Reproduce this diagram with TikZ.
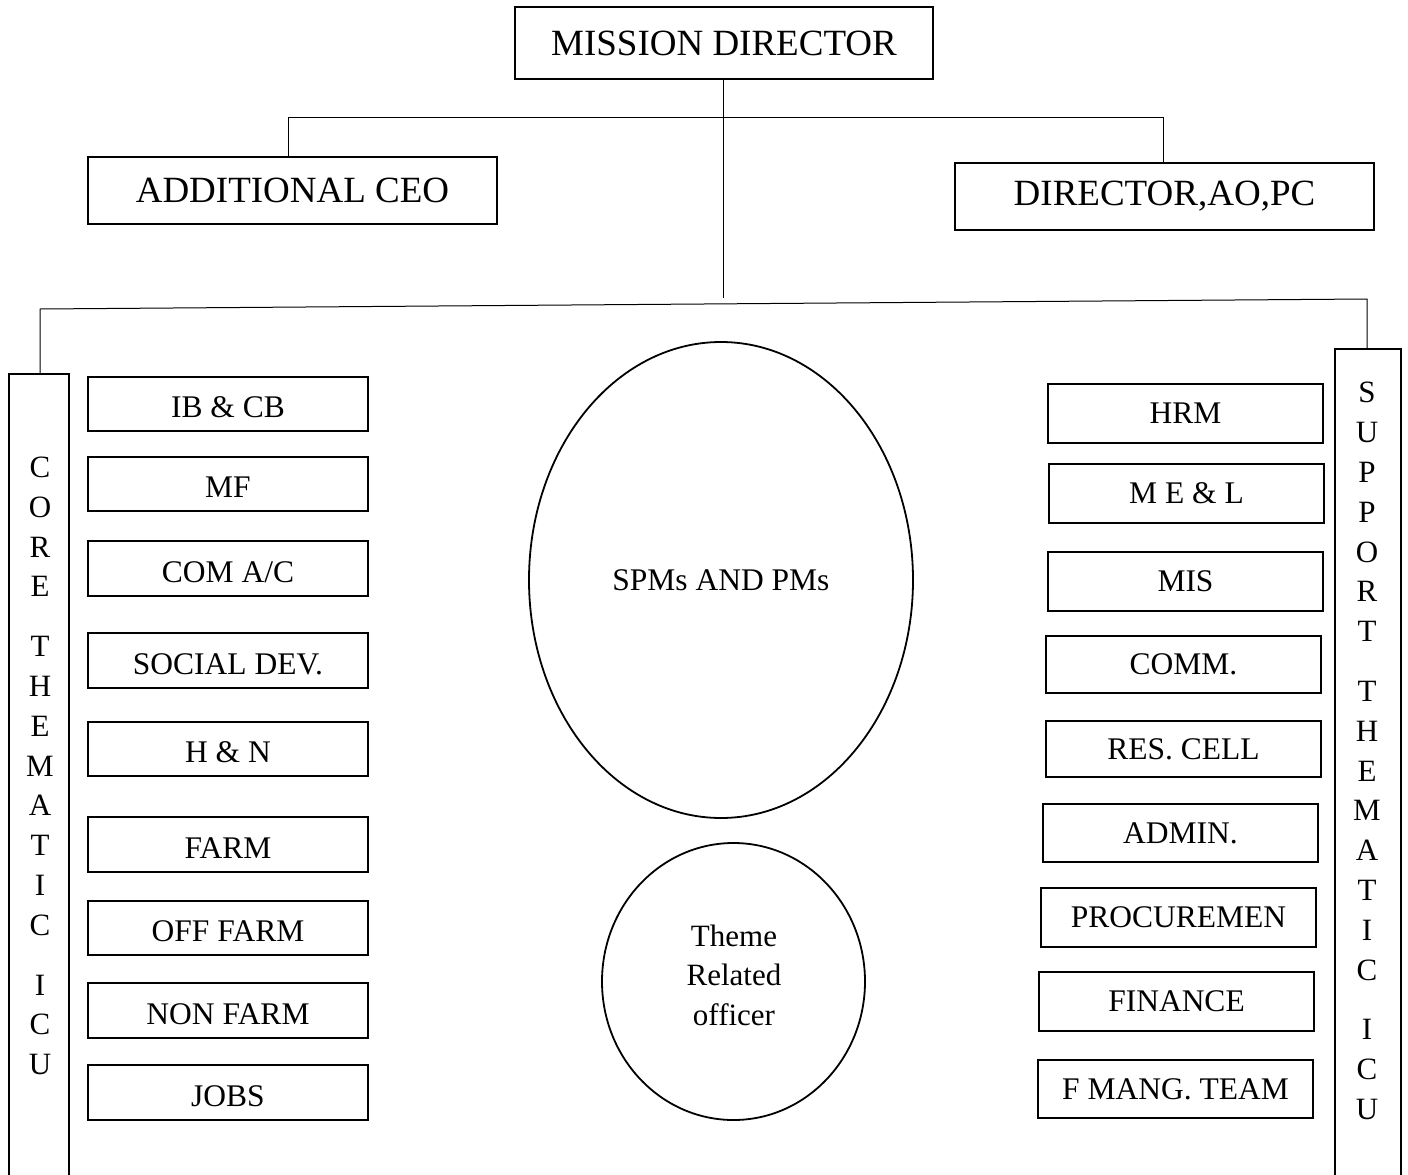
\documentclass[tikz,border=0pt]{standalone}
\usepackage{fontspec}
\setmainfont{Liberation Serif}
\usetikzlibrary{shapes.geometric}
\begin{document}
\begin{tikzpicture}[x=1pt,y=-1pt,
  bigbox/.style={draw, line width=2.2pt, inner sep=0pt, font=\fontsize{37}{44}\selectfont},
  unitbox/.style={draw, line width=2.2pt, inner sep=0pt, minimum height=55, font=\fontsize{31.5}{38}\selectfont},
  lbox/.style={unitbox, minimum width=280, text height=27pt, text depth=0pt},
  rbox/.style={unitbox, minimum width=275, minimum height=59},
  colbox/.style={draw, line width=2.2pt, inner sep=0pt, anchor=north},
  coltext/.style={align=center, inner sep=0pt, font=\fontsize{31}{39.8}\selectfont},
  oval/.style={draw, ellipse, line width=1.8pt, inner sep=0pt},
  link/.style={line width=1pt}]
\useasboundingbox (0,0) rectangle (1408,1175);

% top level
\node[bigbox, minimum width=418, minimum height=72] (md) at (724,43) {MISSION DIRECTOR};
\node[bigbox, minimum width=409, minimum height=67] (ceo) at (292.5,190.5) {ADDITIONAL CEO};
\node[bigbox, minimum width=419, minimum height=67] (dir) at (1164.5,196.5) {DIRECTOR,AO,PC};

% side columns
\node[colbox, minimum width=60, minimum height=840] (core) at (39,373) {};
\node[coltext] (coretxt) at (40,766) {C\\O\\R\\E\\[20pt]T\\H\\E\\M\\A\\T\\I\\C\\[20pt]I\\C\\U};
\node[colbox, minimum width=66, minimum height=860] (supp) at (1368,348) {};
\node[coltext] (supptxt) at (1367,751) {S\\U\\P\\P\\O\\R\\T\\[20pt]T\\H\\E\\M\\A\\T\\I\\C\\[20pt]I\\C\\U};

% connectors
\coordinate (h1l) at (288,117);
\coordinate (h1r) at (1163,117);
\coordinate (h2m) at (723,298);
\coordinate (h2l) at (40,309);
\coordinate (h2r) at (1367,299);
\draw[link] (md.south -| h2m) -- (h2m);
\draw[link] (ceo.north -| h1l) -- (h1l) -- (h1r) -- (dir.north -| h1r);
\draw[link] (core.north -| h2l) -- (h2l) -- (h2r) -- (supp.north -| h2r);

% left units
\node[lbox, minimum height=54] (ib) at (228,404) {IB \& CB};
\node[lbox, minimum height=54] (mf) at (228,484) {MF};
\node[lbox] (com) at (228,568.5) {COM A/C};
\node[lbox] (soc) at (228,660.5) {SOCIAL DEV.};
\node[lbox, minimum height=54] (hn) at (228,749) {H \& N};
\node[lbox] (farm) at (228,844.5) {FARM};
\node[lbox, minimum height=54] (off) at (228,928) {OFF FARM};
\node[lbox] (non) at (228,1010.5) {NON FARM};
\node[lbox] (jobs) at (228,1092.5) {JOBS};

% right units
\node[rbox] (hrm) at (1185.5,413.5) {HRM};
\node[rbox] (mel) at (1186.5,493.5) {M E \& L};
\node[rbox] (mis) at (1185.5,581.5) {MIS};
\node[rbox, minimum height=57] (comm) at (1183.5,664.5) {COMM.};
\node[rbox, minimum height=56] (res) at (1183.5,749) {RES. CELL};
\node[rbox, minimum height=58] (admin) at (1180.5,833) {ADMIN.};
\node[rbox] (proc) at (1178.5,917.5) {PROCUREMEN};
\node[rbox] (fin) at (1176.5,1001.5) {FINANCE};
\node[rbox, minimum height=58] (fmt) at (1175.5,1089) {F MANG. TEAM};

% ellipses
\node[oval, minimum width=384, minimum height=476, font=\fontsize{31.5}{38}\selectfont] (spm) at (721,580) {SPMs AND PMs};
\node[oval, minimum width=263, minimum height=277] (tro) at (733.5,981.5) {};
\node[align=center, inner sep=0pt, font=\fontsize{31}{39.5}\selectfont] (trotxt) at (734,975) {Theme\\Related\\officer};
\end{tikzpicture}
\end{document}
